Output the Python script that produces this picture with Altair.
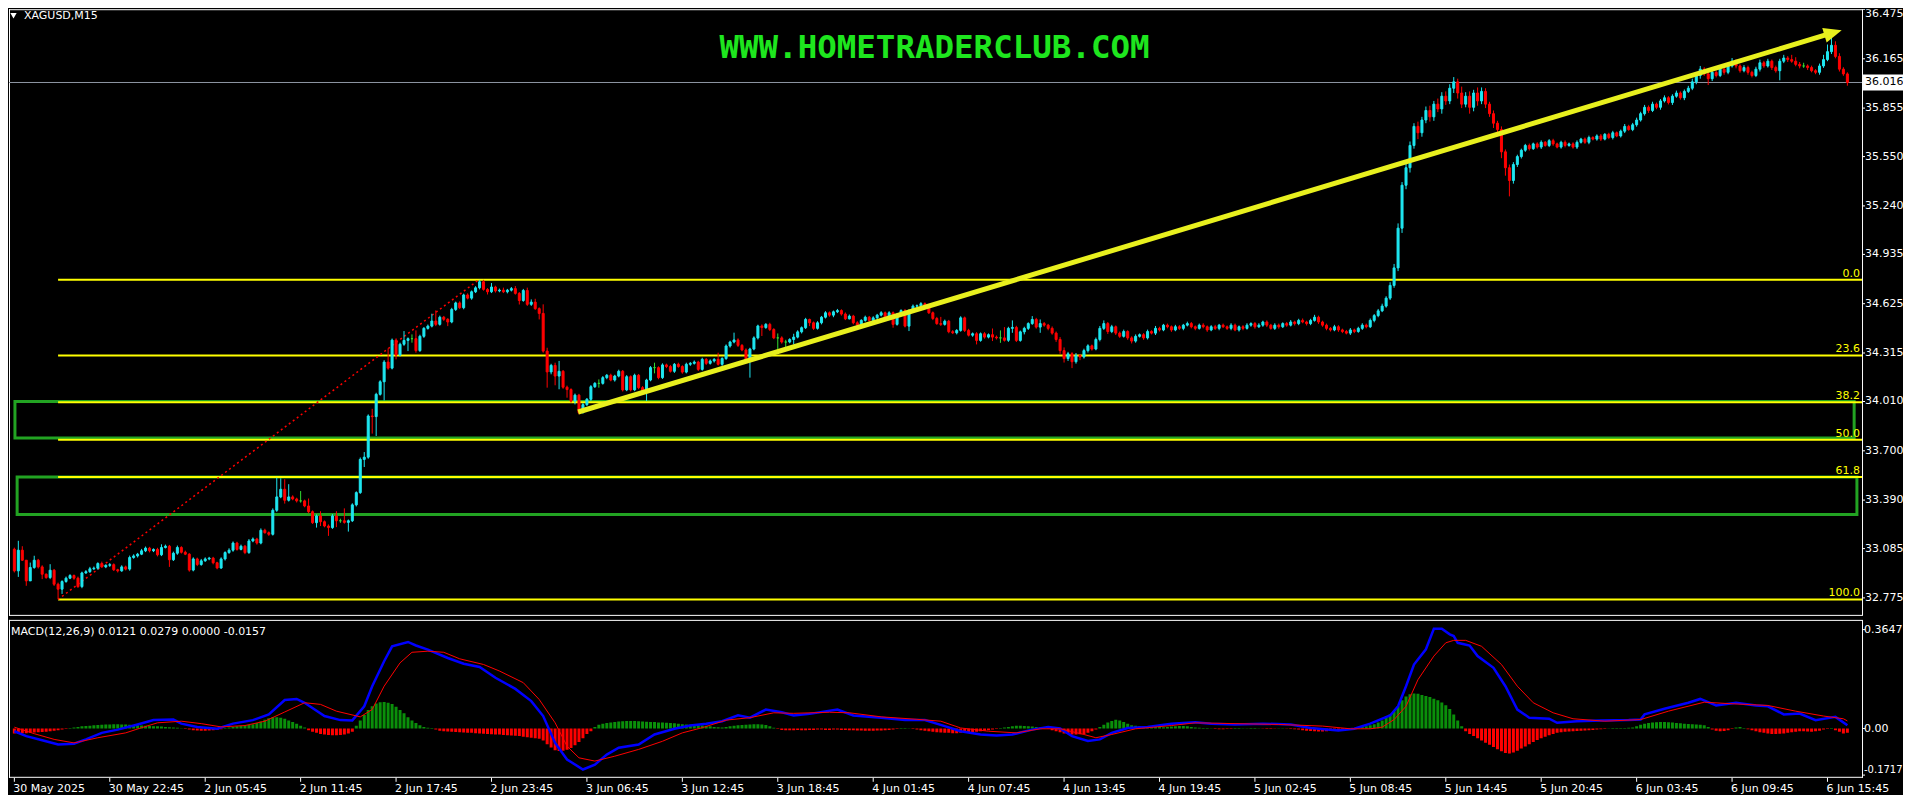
import altair as alt
import pandas as pd

# ---------------- data (prices in thousandths) ----------------
OPEN0 = 33081
CLOSE = [
    32945, 33075, 33012, 32882, 32966, 33012, 32970, 32924, 32903, 32949,
    32861, 32830, 32878, 32899, 32916, 32899, 32846, 32932, 32940, 32958,
    32962, 32991, 32970, 32980, 32984, 32952, 32945, 32970, 32956, 33029,
    33039, 33050, 33071, 33088, 33071, 33080, 33046, 33092, 33100, 33015,
    33056, 33092, 33062, 33050, 32950, 33020, 32985, 33008, 33020, 33025,
    32996, 32963, 33020, 33060, 33075, 33120, 33080, 33100, 33060, 33133,
    33145, 33120, 33200, 33185, 33175, 33326, 33410, 33458, 33389, 33410,
    33397, 33385, 33385, 33353, 33317, 33248, 33290, 33254, 33227, 33217,
    33290, 33260, 33260, 33250, 33260, 33360, 33437, 33646, 33660, 33919,
    33915, 34055, 34134, 34258, 34220, 34396, 34302, 34370, 34394, 34405,
    34405, 34330, 34420, 34470, 34484, 34516, 34495, 34540, 34527, 34510,
    34589, 34630, 34600, 34680, 34660, 34700, 34725, 34763, 34715, 34700,
    34730, 34705, 34710, 34700, 34710, 34720, 34690, 34645, 34708, 34621,
    34635, 34594, 34564, 34327, 34196, 34237, 34170, 34200, 34100, 34085,
    34013, 34050, 33940, 33990, 34024, 34103, 34124, 34124, 34160, 34175,
    34145, 34170, 34200, 34083, 34166, 34083, 34175, 34097, 34076, 34145,
    34223, 34223, 34160, 34240, 34230, 34200, 34244, 34230, 34195, 34244,
    34250, 34258, 34212, 34275, 34250, 34265, 34275, 34244, 34280, 34359,
    34384, 34397, 34363, 34334, 34270, 34340, 34410, 34485, 34475, 34495,
    34463, 34410, 34410, 34384, 34384, 34400, 34415, 34448, 34474, 34526,
    34505, 34470, 34505, 34540, 34568, 34553, 34574, 34582, 34560, 34530,
    34547, 34505, 34490, 34520, 34540, 34520, 34536, 34553, 34568, 34540,
    34568, 34495, 34557, 34582, 34484, 34582, 34610, 34612, 34625, 34605,
    34568, 34532, 34500, 34495, 34515, 34449, 34442, 34457, 34536, 34457,
    34427, 34436, 34394, 34436, 34415, 34430, 34415, 34410, 34410, 34395,
    34470, 34476, 34394, 34448, 34470, 34500, 34526, 34478, 34500, 34490,
    34470, 34440, 34400, 34330, 34280, 34310, 34260, 34300, 34290, 34330,
    34360, 34340, 34400, 34470, 34500, 34450, 34480, 34440, 34420, 34450,
    34410, 34390, 34420, 34430, 34410, 34450, 34440, 34470, 34460, 34490,
    34480, 34460, 34480, 34470, 34490, 34500, 34480, 34470, 34490, 34480,
    34460, 34480, 34470, 34490, 34480, 34470, 34490, 34460, 34480, 34470,
    34490, 34500, 34480, 34490, 34510, 34490, 34470, 34490, 34480, 34500,
    34490, 34510, 34500, 34520, 34510, 34500, 34520, 34540, 34510, 34490,
    34470, 34460, 34480, 34460, 34450, 34440, 34460, 34450, 34470, 34490,
    34480, 34520, 34550, 34580, 34610, 34660, 34740, 34850, 35100, 35370,
    35480, 35620, 35740, 35700, 35780, 35840, 35800, 35880, 35850, 35930,
    35900, 35980, 36020, 35950, 35880, 35930, 35860, 35950, 35900, 35960,
    35880, 35820, 35760, 35720, 35580, 35480, 35400, 35500, 35550, 35590,
    35620, 35600, 35630, 35610, 35640, 35620, 35650, 35630, 35610, 35640,
    35620, 35630, 35610, 35640, 35660, 35640, 35670, 35660, 35680, 35660,
    35690, 35670, 35700, 35680, 35710, 35740, 35720, 35750, 35780, 35820,
    35860, 35840, 35880, 35860, 35900, 35920, 35890, 35930, 35950, 35920,
    35960, 35980, 36020, 36060, 36100, 36070, 36040, 36080, 36060, 36100,
    36080, 36120, 36150, 36120, 36090, 36110, 36080, 36060, 36100, 36140,
    36120, 36150, 36110, 36090, 36150, 36170, 36160, 36150, 36130, 36120,
    36120, 36110, 36090, 36080, 36120, 36160, 36210, 36250, 36180, 36100,
    36070, 36016,
]
UPW = [
    10, 59, 25, 0, 31, 28, 8, 10, 5, 38,
    8, 10, 8, 10, 8, 6, 10, 8, 10, 12,
    10, 8, 12, 6, 10, 8, 6, 10, 8, 12,
    10, 8, 12, 10, 8, 6, 10, 20, 10, 8,
    10, 12, 8, 10, 6, 10, 8, 12, 10, 8,
    8, 6, 10, 8, 12, 10, 8, 10, 8, 12,
    10, 8, 12, 10, 8, 12, 120, 69, 63, 80,
    10, 8, 62, 8, 47, 8, 10, 30, 8, 10,
    12, 30, 13, 78, 8, 10, 8, 12, 32, 10,
    45, 10, 10, 12, 86, 10, 11, 10, 59, 8,
    27, 52, 10, 8, 10, 46, 67, 10, 8, 7,
    10, 8, 10, 8, 10, 8, 10, 12, 12, 8,
    25, 8, 10, 16, 8, 10, 16, 8, 10, 18,
    17, 21, 8, 57, 21, 10, 17, 65, 8, 10,
    8, 10, 8, 10, 8, 10, 8, 25, 10, 8,
    10, 8, 10, 8, 10, 8, 10, 8, 10, 8,
    10, 31, 8, 10, 8, 10, 8, 10, 8, 10,
    8, 10, 8, 10, 8, 10, 8, 42, 8, 10,
    8, 46, 10, 8, 10, 8, 10, 8, 10, 8,
    10, 8, 28, 10, 14, 8, 21, 10, 8, 10,
    5, 8, 10, 8, 10, 8, 8, 10, 8, 10,
    10, 8, 10, 8, 10, 8, 10, 8, 10, 8,
    10, 8, 10, 8, 10, 8, 10, 8, 10, 8,
    10, 8, 10, 42, 10, 8, 10, 8, 10, 8,
    10, 8, 10, 8, 10, 8, 39, 10, 47, 68,
    10, 44, 10, 8, 10, 8, 21, 10, 26, 10,
    8, 12, 10, 15, 20, 12, 10, 15, 8, 12,
    10, 8, 12, 15, 20, 10, 12, 8, 10, 12,
    8, 10, 12, 8, 10, 12, 8, 15, 10, 8,
    10, 8, 12, 10, 8, 12, 10, 8, 10, 12,
    8, 10, 12, 8, 10, 8, 12, 10, 8, 10,
    12, 8, 10, 12, 8, 10, 8, 12, 10, 8,
    10, 12, 8, 10, 12, 8, 10, 15, 10, 8,
    10, 8, 12, 10, 8, 10, 12, 8, 10, 12,
    10, 12, 10, 12, 15, 12, 20, 25, 30, 20,
    30, 25, 20, 30, 20, 25, 30, 20, 35, 25,
    30, 25, 30, 20, 40, 25, 30, 20, 35, 25,
    20, 15, 20, 15, 20, 15, 20, 15, 12, 10,
    10, 12, 8, 10, 12, 8, 10, 12, 8, 10,
    12, 8, 10, 12, 8, 10, 12, 8, 10, 12,
    8, 10, 12, 8, 10, 15, 10, 12, 15, 12,
    15, 12, 15, 10, 12, 15, 10, 12, 15, 10,
    12, 15, 20, 15, 20, 12, 10, 15, 12, 15,
    12, 15, 20, 12, 10, 15, 12, 10, 15, 20,
    12, 15, 10, 12, 15, 20, 12, 30, 25, 15,
    20, 10, 12, 10, 15, 30, 45, 70, 25, 20,
    12, 10,
]
DNW = [
    10, 38, 5, 31, 0, 8, 10, 31, 8, 10,
    11, 63, 30, 8, 6, 10, 8, 10, 6, 8,
    8, 10, 6, 8, 10, 8, 10, 6, 8, 10,
    8, 10, 6, 8, 10, 8, 10, 8, 6, 45,
    8, 10, 8, 6, 10, 8, 10, 8, 6, 8,
    10, 8, 6, 10, 8, 10, 8, 6, 10, 8,
    8, 10, 8, 6, 10, 8, 10, 8, 21, 8,
    8, 10, 11, 8, 10, 8, 31, 27, 8, 52,
    8, 40, 13, 8, 58, 8, 10, 8, 48, 10,
    107, 122, 8, 117, 10, 8, 27, 8, 10, 67,
    25, 13, 8, 10, 8, 8, 11, 8, 10, 26,
    8, 10, 8, 10, 8, 10, 8, 10, 8, 17,
    8, 10, 8, 8, 10, 8, 8, 25, 8, 10,
    10, 8, 38, 10, 99, 15, 58, 83, 10, 51,
    10, 21, 10, 5, 8, 10, 8, 27, 8, 10,
    8, 10, 8, 10, 8, 10, 8, 10, 8, 63,
    8, 36, 10, 8, 10, 8, 10, 8, 10, 8,
    10, 8, 10, 8, 10, 8, 10, 8, 10, 8,
    10, 8, 10, 8, 10, 110, 8, 10, 53, 8,
    10, 8, 72, 10, 33, 8, 31, 8, 10, 8,
    21, 10, 8, 10, 8, 10, 13, 8, 10, 8,
    4, 10, 8, 10, 8, 10, 8, 10, 8, 10,
    8, 21, 8, 10, 8, 31, 8, 10, 8, 10,
    8, 10, 8, 10, 8, 10, 8, 10, 8, 10,
    8, 10, 25, 8, 10, 8, 25, 10, 31, 8,
    10, 28, 10, 8, 16, 10, 8, 10, 36, 10,
    12, 10, 15, 20, 25, 15, 40, 12, 20, 10,
    12, 10, 8, 12, 10, 15, 10, 12, 10, 8,
    12, 15, 10, 8, 12, 10, 8, 12, 10, 8,
    10, 12, 8, 10, 12, 8, 10, 12, 8, 10,
    12, 8, 10, 12, 8, 10, 12, 8, 10, 12,
    8, 10, 12, 8, 10, 12, 8, 10, 12, 8,
    10, 8, 12, 10, 8, 12, 10, 8, 12, 10,
    12, 10, 8, 12, 10, 8, 12, 10, 8, 10,
    10, 8, 12, 10, 8, 10, 12, 15, 20, 30,
    25, 30, 20, 40, 25, 20, 30, 25, 20, 30,
    25, 20, 30, 35, 25, 20, 40, 25, 30, 20,
    25, 20, 30, 25, 40, 50, 100, 20, 15, 12,
    10, 12, 8, 10, 12, 8, 10, 12, 8, 10,
    12, 8, 10, 12, 8, 10, 12, 8, 10, 12,
    8, 10, 12, 8, 10, 12, 8, 10, 12, 10,
    12, 15, 10, 12, 15, 10, 12, 15, 10, 12,
    15, 10, 12, 15, 20, 12, 40, 15, 12, 10,
    15, 12, 10, 15, 12, 10, 15, 12, 10, 15,
    12, 10, 15, 12, 60, 12, 15, 10, 12, 15,
    12, 15, 10, 12, 15, 12, 10, 15, 12, 15,
    12, 20,
]
HIST = [
    -18, -18, -17, -17, -16, -15, -14, -13, -12, -10,
    -8, -6, -4, -2, 2, 4, 6, 8, 9, 10,
    12, 13, 14, 15, 15, 16, 16, 15, 15, 14,
    13, 12, 11, 10, 9, 8, 8, 7, 6, 5,
    4, 3, 1, -2, -4, -6, -7, -8, -8, -7,
    -6, -5, -3, 2, 4, 6, 8, 10, 12, 14,
    16, 20, 26, 32, 38, 42, 42, 40, 36, 30,
    24, 18, 10, 4, -6, -12, -16, -20, -22, -24,
    -25, -25, -24, -22, -18, -12, 10, 30, 50, 68,
    82, 92, 97, 98, 95, 90, 80, 68, 56, 42,
    30, 20, 12, 6, 3, 2, -4, -8, -10, -11,
    -12, -13, -14, -15, -16, -16, -17, -18, -19, -20,
    -21, -22, -22, -24, -25, -26, -27, -28, -30, -32,
    -34, -36, -38, -44, -58, -70, -80, -83, -82, -78,
    -72, -62, -50, -36, -20, -10, 6, 14, 18, 20,
    22, 24, 26, 27, 28, 28, 28, 27, 26, 25,
    24, 24, 22, 22, 21, 20, 19, 18, 16, 15,
    14, 13, 12, 11, 10, 8, 6, 5, 4, 6,
    8, 10, 12, 13, 14, 15, 16, 16, 15, 13,
    8, 3, -2, -5, -6, -6, -6, -5, -6, -6,
    -5, -5, -4, -4, -5, -5, -4, -4, -5, -5,
    -6, -6, -7, -7, -8, -8, -8, -7, -7, -6,
    -5, -4, -2, 2, 2, 1, -2, -4, -6, -8,
    -10, -12, -14, -15, -16, -16, -17, -17, -16, -15,
    -14, -13, -12, -10, -8, -6, -4, -2, 2, 4,
    6, 8, 10, 10, 9, 8, 7, 6, 4, 2,
    -2, -6, -10, -14, -18, -20, -22, -22, -21, -20,
    -16, -10, -4, 6, 14, 22, 28, 32, 30, 24,
    18, 12, 10, 9, 9, 8, 8, 7, 6, 5,
    6, 7, 8, 9, 9, 8, 6, 4, 3, 2,
    2, 1, -2, -3, -3, -2, -2, 2, 2, 1,
    1, 2, 2, 1, -1, -2, -2, -1, 1, 1,
    -1, -2, -3, -4, -6, -8, -9, -10, -11, -11,
    -10, -9, -8, -6, -4, -2, 1, 2, 4, 6,
    8, 12, 16, 22, 30, 40, 52, 64, 82, 104,
    118, 126, 129, 128, 124, 120, 116, 110, 104, 96,
    86, 72, 52, 30, 8, -10, -20, -28, -36, -44,
    -52, -60, -68, -76, -84, -90, -92, -88, -82, -74,
    -66, -58, -50, -42, -36, -30, -25, -20, -16, -14,
    -12, -11, -10, -9, -8, -7, -6, -5, -4, -3,
    -2, 1, 2, 2, 2, 2, 3, 4, 8, 14,
    18, 20, 22, 23, 24, 24, 23, 22, 20, 19,
    18, 17, 16, 15, 14, 12, 6, -4, -8, -10,
    -9, -6, -2, 4, 6, 2, -3, -6, -10, -14,
    -16, -18, -20, -20, -19, -18, -16, -14, -12, -10,
    -10, -11, -12, -10, -8, -4, -2, 2, -6, -12,
    -18, -16,
]
BLUE_I = [0, 3, 7, 11, 15, 18, 22, 26, 31, 35, 40, 42, 46, 51, 55, 60, 64, 68, 71, 73,
          78, 82, 85, 88, 90, 93, 95, 99, 101, 104, 109, 113, 117, 121, 126, 130, 133, 136, 139, 143,
          146, 149, 152, 157, 161, 166, 170, 174, 178, 182, 185, 189, 193, 196, 200, 207, 211, 218, 224, 229,
          234, 238, 243, 247, 251, 256, 260, 263, 266, 270, 273, 276, 280, 285, 291, 297, 301, 307, 314, 321,
          326, 333, 337, 341, 346, 348, 350, 352, 355, 357, 359, 361, 362, 363, 366, 368, 372, 375, 378, 381,
          386, 388, 393, 399, 406, 409, 410, 415, 421, 424, 426, 428, 433, 438, 441, 445, 449, 453, 458, 461]
BLUE_V = [-10, -28, -43, -59, -56, -40, -16, -4, 15, 31, 33, 18, 6, -1, 18, 31, 52, 105, 109, 95,
          46, 31, 30, 82, 156, 248, 303, 319, 306, 291, 260, 239, 227, 187, 146, 101, 46, -53, -114, -151,
          -133, -96, -71, -59, -22, -1, 11, 18, 27, 49, 40, 70, 60, 48, 54, 70, 48, 40, 31, 31,
          9, -10, -22, -26, -22, -4, 6, 0, -28, -46, -40, -16, 2, 6, 18, 23, 18, 15, 18, 15,
          2, -7, -1, 18, 48, 82, 156, 236, 292, 368, 368, 347, 341, 316, 306, 267, 224, 156, 70, 40,
          36, 21, 27, 30, 31, 33, 52, 73, 95, 109, 97, 85, 95, 85, 82, 52, 55, 31, 43, 12]
RED_I = [0, 5, 10, 15, 21, 28, 32, 36, 42, 47, 52, 58, 63, 68, 73, 77, 81, 87, 90, 93,
         97, 100, 104, 108, 112, 118, 122, 128, 132, 136, 139, 142, 146, 151, 157, 163, 168, 173, 179, 185,
         191, 196, 205, 210, 218, 227, 233, 238, 245, 252, 258, 263, 269, 272, 276, 282, 291, 297, 307, 318,
         329, 336, 341, 344, 347, 350, 353, 357, 360, 362, 365, 369, 374, 378, 382, 387, 392, 400, 409, 416,
         425, 431, 441, 448, 455, 460, 461]
RED_V = [5, -19, -40, -53, -34, -16, 3, 21, 27, 18, 6, 11, 27, 61, 95, 89, 64, 43, 70, 156,
         242, 281, 285, 281, 257, 236, 212, 169, 107, 21, -65, -108, -120, -102, -77, -47, -16, 3, 31, 40,
         58, 56, 60, 58, 43, 34, 27, 2, -10, -16, -1, -1, -22, -34, -22, -1, 11, 21, 18, 15,
         9, -1, -1, 5, 33, 82, 180, 267, 316, 325, 325, 303, 236, 156, 95, 58, 36, 27, 33, 64,
         97, 92, 85, 64, 46, 36, 28]

TICK_BARS = [0, 24, 48, 72, 96, 120, 144, 168, 192, 216, 240, 264, 288, 312, 336, 360, 384, 408, 432, 456]
TICK_LABELS = ["30 May 2025", "30 May 22:45", "2 Jun 05:45", "2 Jun 11:45", "2 Jun 17:45",
               "2 Jun 23:45", "3 Jun 06:45", "3 Jun 12:45", "3 Jun 18:45", "4 Jun 01:45",
               "4 Jun 07:45", "4 Jun 13:45", "4 Jun 19:45", "5 Jun 02:45", "5 Jun 08:45",
               "5 Jun 14:45", "5 Jun 20:45", "6 Jun 03:45", "6 Jun 09:45", "6 Jun 15:45"]
PRICE_TICKS = [36.475, 36.165, 35.855, 35.550, 35.240, 34.935, 34.625, 34.315,
               34.010, 33.700, 33.390, 33.085, 32.775]
MACD_TICKS = [0.3647, 0.0, -0.1717]
MACD_TICK_TEXT = ["0.3647", "0.00", "-0.1717"]

FIB_LEVELS = [34.775, 34.300, 34.005, 33.770, 33.535, 32.765]
FIB_NAMES = ["0.0", "23.6", "38.2", "50.0", "61.8", "100.0"]
FIB_START_BAR = 11
FIB_TREND = {"x": [11], "y": [32.765], "x2": [116.5], "y2": [34.770]}

BOX_LEFT = [0.15, 0.7]
BOX_RIGHT = [462.7, 463.4]
BOX_TOP = [34.010, 33.535]
BOX_BOTTOM = [33.780, 33.300]

ARROW_LINE = {"x": [141.8], "y": [33.944], "x2": [457.4], "y2": [36.329]}
ARROW_HEAD = {"x": [457.4], "y": [36.329]}

LAST_PRICE = 36.016
SYMBOL = "XAGUSD,M15"
WATERMARK = "WWW.HOMETRADERCLUB.COM"
MACD_TITLE = "MACD(12,26,9) 0.0121 0.0279 0.0000 -0.0157"

# ---------------- layout / styling ----------------
W = 1895          # panel width incl. the price-scale strip
AX = 1854         # x of the price-scale line
H_MAIN = 607
H_MPLOT = 158     # MACD plotting area
H_MACD = 175      # MACD panel incl. the time scale strip
X_DOM, X_RNG = [0, 461], [0.35, 1844.35]
Y_DOM, Y_RNG = [32.775, 36.475], [589.0, 0.3]
M_DOM, M_RNG = [-0.1717, 0.3647], [155.3, 9.7]
CYAN = "#1ee6f0"
RED = "#ff0000"
DOJI = "#32dc32"
YEL = "#ffff00"
BOXG = "#22a322"
ARROWC = "#e8f01e"
HG = "#0a8f0a"
FONT = "DejaVu Sans"

# ---------------- tables ----------------
opens = [OPEN0] + CLOSE[:-1]
rows = []
for i, (o, c, u, d) in enumerate(zip(opens, CLOSE, UPW, DNW)):
    rows.append({
        "bar": i, "open": o / 1000, "close": c / 1000,
        "high": (max(o, c) + u) / 1000, "low": (min(o, c) - d) / 1000,
        "dir": "up" if c > o else ("down" if c < o else "doji"),
    })
candles = pd.DataFrame(rows)
hist = pd.DataFrame({"bar": list(range(len(HIST))), "h": [v / 1000 for v in HIST]})
blue = pd.DataFrame({"bar": BLUE_I, "v": [v / 1000 for v in BLUE_V]})
redl = pd.DataFrame({"bar": RED_I, "v": [v / 1000 for v in RED_V]})
fib = pd.DataFrame({"level": FIB_LEVELS, "name": FIB_NAMES, "start": [FIB_START_BAR] * len(FIB_LEVELS)})
boxes = pd.DataFrame({"x": BOX_LEFT, "x2": BOX_RIGHT, "y": BOX_TOP, "y2": BOX_BOTTOM})
lastdf = pd.DataFrame({"p": [LAST_PRICE], "hi": [LAST_PRICE + 0.051], "lo": [LAST_PRICE - 0.051],
                       "lbl": [f"{LAST_PRICE:.3f}"]})
pticks = pd.DataFrame({"p": PRICE_TICKS, "lbl": [f"{v:.3f}" for v in PRICE_TICKS]})
mticks = pd.DataFrame({"v": MACD_TICKS, "lbl": MACD_TICK_TEXT})
tticks = pd.DataFrame({"bar": TICK_BARS, "lbl": TICK_LABELS})
one = pd.DataFrame({"t": [SYMBOL]})

xs = alt.Scale(domain=X_DOM, range=X_RNG, nice=False, zero=False)
ys = alt.Scale(domain=Y_DOM, range=Y_RNG, nice=False, zero=False)
ms = alt.Scale(domain=M_DOM, range=M_RNG, nice=False, zero=False)
cscale = alt.Scale(domain=["up", "down", "doji"], range=[CYAN, RED, DOJI])

X = lambda f: alt.X(f, scale=xs, axis=None)
Y = lambda f: alt.Y(f, scale=ys, axis=None)
MY = lambda f: alt.Y(f, scale=ms, axis=None)
TXT = dict(font=FONT, fontSize=11, clip=True)


def rules(segs):
    out = []
    for (x1, x2, y1, y2) in segs:
        out.append(alt.Chart(one).mark_rule(color="white", strokeWidth=1).encode(
            x=alt.value(x1), x2=alt.value(x2), y=alt.value(y1), y2=alt.value(y2)))
    return out


# ---- main panel ----
main_frame = rules([(0.5, 0.5, 0, H_MAIN), (0, AX, 0.5, 0.5), (0, AX, H_MAIN - 0.5, H_MAIN - 0.5),
                    (AX + 0.5, AX + 0.5, 0, H_MAIN)])
price_line = alt.Chart(lastdf).mark_rule(color="#8e96a3", strokeWidth=1).encode(
    x=alt.value(0), x2=alt.value(AX), y=Y("p:Q"))
box_layer = alt.Chart(boxes).mark_rect(fillOpacity=0, stroke=BOXG, strokeWidth=3, clip=True).encode(
    x=X("x:Q"), x2="x2:Q", y=Y("y:Q"), y2="y2:Q")
fib_lines = alt.Chart(fib).mark_rule(color=YEL, strokeWidth=2).encode(
    x=X("start:Q"), x2=alt.value(AX), y=Y("level:Q"))
fib_text = alt.Chart(fib).mark_text(align="right", baseline="bottom", dy=-1, color=YEL, **TXT).encode(
    x=alt.value(AX - 2), y=Y("level:Q"), text="name:N")
fib_trend = alt.Chart(pd.DataFrame(FIB_TREND)).mark_rule(color=RED, strokeWidth=1.5,
                                                         strokeDash=[2, 3]).encode(
    x=X("x:Q"), x2="x2:Q", y=Y("y:Q"), y2="y2:Q")
wicks = alt.Chart(candles).mark_rule(strokeWidth=1, clip=True).encode(
    x=X("bar:Q"), y=Y("low:Q"), y2="high:Q",
    color=alt.Color("dir:N", scale=cscale, legend=None))
bodies = alt.Chart(candles).mark_bar(size=2, strokeWidth=1, clip=True).encode(
    x=X("bar:Q"), y=Y("open:Q"), y2="close:Q",
    color=alt.Color("dir:N", scale=cscale, legend=None),
    stroke=alt.Stroke("dir:N", scale=cscale, legend=None))
arrow_line = alt.Chart(pd.DataFrame(ARROW_LINE)).mark_rule(color=ARROWC, strokeWidth=5).encode(
    x=X("x:Q"), x2="x2:Q", y=Y("y:Q"), y2="y2:Q")
arrow_head = alt.Chart(pd.DataFrame(ARROW_HEAD)).mark_point(
    shape="M -1 -0.85 L 1 0 L -1 0.85 Z", size=324, filled=True, color=ARROWC, opacity=1,
    angle=343.4, clip=True).encode(x=X("x:Q"), y=Y("y:Q"))
ptick_marks = alt.Chart(pticks).mark_rule(color="white", strokeWidth=1, clip=True).encode(
    x=alt.value(AX), x2=alt.value(AX + 3), y=Y("p:Q"))
ptick_text = alt.Chart(pticks).transform_filter("datum.p < 36.4").mark_text(
    align="left", baseline="middle", color="white", **TXT).encode(
    x=alt.value(AX + 3), y=Y("p:Q"), text="lbl:N")
ptick_top = alt.Chart(pticks).transform_filter("datum.p > 36.4").mark_text(
    align="left", baseline="middle", color="white", dy=4, **TXT).encode(
    x=alt.value(AX + 3), y=Y("p:Q"), text="lbl:N")
last_box = alt.Chart(lastdf).mark_rect(color="white", clip=True).encode(
    x=alt.value(AX + 1), x2=alt.value(W), y=Y("hi:Q"), y2="lo:Q")
last_text = alt.Chart(lastdf).mark_text(align="left", baseline="middle", color="black", **TXT).encode(
    x=alt.value(AX + 3), y=Y("p:Q"), text="lbl:N")
title_tri = alt.Chart(one).mark_point(
    shape="triangle-down", size=40, filled=True, color="white", opacity=1).encode(
    x=alt.value(4.5), y=alt.value(6.5))
title_txt = alt.Chart(one).mark_text(align="left", baseline="middle", color="white", **TXT).encode(
    x=alt.value(15), y=alt.value(6.7), text="t:N")
water = alt.Chart(pd.DataFrame({"t": [WATERMARK]})).mark_text(
    align="center", baseline="middle", color="#1ee61e", font="DejaVu Sans Mono",
    fontSize=32.5, fontWeight="bold", clip=True).encode(x=alt.value(926), y=alt.value(39), text="t:N")

main = alt.layer(*main_frame, price_line, box_layer, fib_lines, fib_text, fib_trend, wicks, bodies,
                 arrow_line, arrow_head, ptick_marks, ptick_text, ptick_top, last_box, last_text,
                 title_tri, title_txt, water).properties(width=W, height=H_MAIN)

# ---- MACD panel ----
macd_frame = rules([(0.5, 0.5, 0, H_MPLOT), (0, AX, 0.5, 0.5), (0, AX + 1, H_MPLOT - 0.5, H_MPLOT - 0.5),
                    (AX + 0.5, AX + 0.5, 0, H_MPLOT)])
hist_layer = alt.Chart(hist).mark_bar(size=3, clip=True).encode(
    x=X("bar:Q"), y=MY("h:Q"), y2=alt.datum(0),
    color=alt.condition("datum.h > 0", alt.value(HG), alt.value(RED)))
blue_layer = alt.Chart(blue).mark_line(color="#0000ff", strokeWidth=2.5, clip=True).encode(
    x=X("bar:Q"), y=MY("v:Q"))
red_layer = alt.Chart(redl).mark_line(color=RED, strokeWidth=1, clip=True).encode(
    x=X("bar:Q"), y=MY("v:Q"))
macd_txt = alt.Chart(pd.DataFrame({"t": [MACD_TITLE]})).mark_text(
    align="left", baseline="middle", color="white", **TXT).encode(
    x=alt.value(2), y=alt.value(12), text="t:N")
mtick_marks = alt.Chart(mticks).mark_rule(color="white", strokeWidth=1, clip=True).encode(
    x=alt.value(AX), x2=alt.value(AX + 3), y=MY("v:Q"))
mtick_text = alt.Chart(mticks).transform_filter("datum.v >= 0").mark_text(
    align="left", baseline="middle", color="white", **TXT).encode(
    x=alt.value(AX + 2), y=MY("v:Q"), text="lbl:N")
mtick_low = alt.Chart(mticks).transform_filter("datum.v < 0").mark_text(
    align="left", baseline="middle", color="white", dy=-5, font=FONT, fontSize=10, clip=True).encode(
    x=alt.value(AX + 2), y=MY("v:Q"), text="lbl:N")
tick_marks = alt.Chart(tticks).mark_rule(color="white", strokeWidth=1, clip=True).encode(
    x=X("bar:Q"), y=alt.value(H_MPLOT), y2=alt.value(H_MPLOT + 4))
tick_text = alt.Chart(tticks).mark_text(
    align="left", baseline="alphabetic", color="white", dx=-1, **TXT).encode(
    x=X("bar:Q"), y=alt.value(H_MPLOT + 14.5), text="lbl:N")

macd = alt.layer(*macd_frame, hist_layer, blue_layer, red_layer, macd_txt, mtick_marks, mtick_text,
                 mtick_low, tick_marks, tick_text).properties(width=W, height=H_MACD)

chart = alt.vconcat(main, macd, spacing=2).properties(
    background="black", padding=0
).configure_view(strokeWidth=0)

chart.save("out.html", embed_options={"renderer": "svg", "actions": False})
